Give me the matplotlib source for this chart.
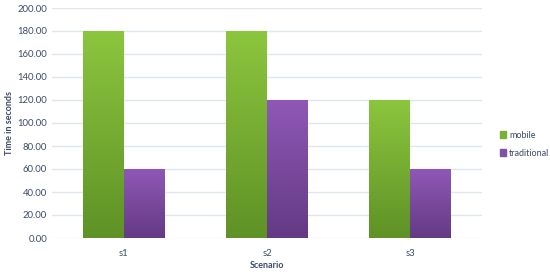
import numpy as np
import matplotlib.pyplot as plt
from matplotlib.colors import LinearSegmentedColormap

# Data
scenarios = ['s1', 's2', 's3']
mobile = [180, 180, 120]
traditional = [60, 120, 60]
series_names = ['mobile', 'traditional']

plt.rcParams['font.family'] = ['Lato', 'DejaVu Sans']
txt = '#3a4a68'

fig = plt.figure(figsize=(5.5, 2.72), dpi=100)
ax = fig.add_axes([52/550, 1 - 238/272, 430/550, 230/272])

x = np.arange(len(scenarios))
w = 0.285
green = LinearSegmentedColormap.from_list('g', ['#5e9226', '#8cc63e'])
purple = LinearSegmentedColormap.from_list('p', ['#633a85', '#9058b6'])

grad = np.linspace(0, 1, 256).reshape(-1, 1)
for vals, off, cmap, base in [(mobile, -w/2, green, '#76ae32'),
                              (traditional, w/2, purple, '#7a4a9e')]:
    bars = ax.bar(x + off, vals, w, color=base, zorder=2)
    for b in bars:
        x0, y0 = b.get_x(), b.get_y()
        im = ax.imshow(grad, cmap=cmap, origin='lower', aspect='auto',
                       extent=[x0, x0 + b.get_width(), y0, y0 + b.get_height()],
                       zorder=3)
        im.set_clip_path(b)

ax.set_xlim(-0.5, 2.5)
ax.set_ylim(0, 200)
ax.set_yticks(np.arange(0, 201, 20))
ax.set_yticklabels(['%.2f' % v for v in np.arange(0, 201, 20)])
ax.set_xticks(x)
ax.set_xticklabels(scenarios)
ax.yaxis.grid(True, color='#dfe7ee', lw=1, zorder=0)
ax.set_axisbelow(True)
for s in ax.spines.values():
    s.set_visible(False)
ax.tick_params(length=0, colors=txt, labelsize=6.8)
ax.tick_params(axis='x', pad=8)
ax.set_xlabel('Scenario', color=txt, fontsize=6.5, fontweight='bold', labelpad=2)
ax.set_ylabel('Time in seconds', color=txt, fontsize=6.5, fontweight='bold', labelpad=2)

handles = [plt.Rectangle((0, 0), 1, 1, color='#78b234'),
           plt.Rectangle((0, 0), 1, 1, color='#8051a6')]
fig.legend(handles, series_names, loc='center left', bbox_to_anchor=(492/550, 0.47),
           frameon=False, fontsize=6.5, labelcolor=txt, handlelength=0.7,
           handleheight=0.7, handletextpad=0.3, labelspacing=1.0)

fig.savefig('out.png', dpi=100)
